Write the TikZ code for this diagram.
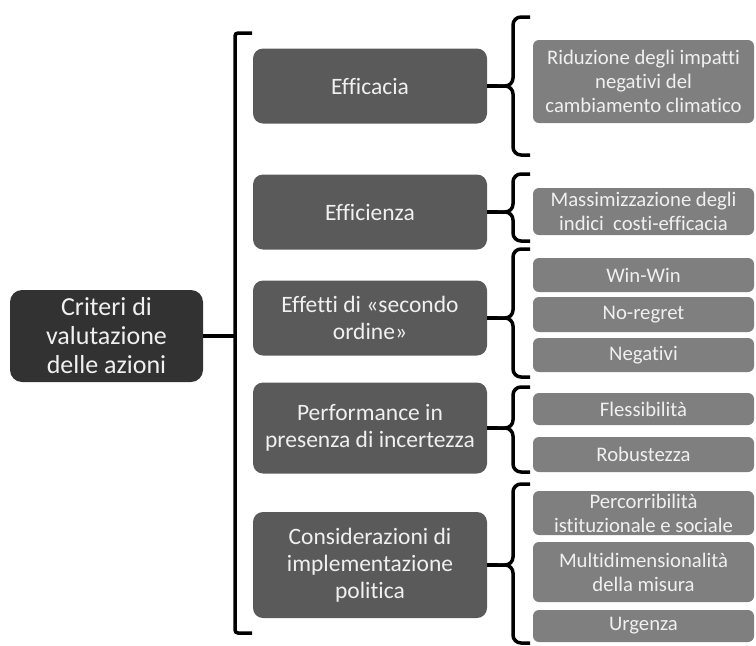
\documentclass[tikz,border=0pt]{standalone}
\usepackage{fontspec}
\setmainfont[Ligatures=NoCommon]{Carlito}
\definecolor{rootgray}{HTML}{323232}
\definecolor{critgray}{HTML}{5A5A5A}
\definecolor{subgray}{HTML}{7F7F7F}
\definecolor{txtgray}{HTML}{F0F0F0}
\begin{document}
\begin{tikzpicture}[x=1pt, y=-1pt,
    rootbox/.style={fill=rootgray, rounded corners=12pt, text=txtgray, align=center, inner sep=0pt, font=\fontsize{26}{29}\selectfont},
    critbox/.style={fill=critgray, rounded corners=10pt, text=txtgray, align=center, inner sep=0pt, minimum width=234pt, font=\fontsize{23.5}{27}\selectfont},
    subbox/.style={fill=subgray, rounded corners=6pt, text=txtgray, align=center, inner sep=0pt, minimum width=221pt, font=\fontsize{20.7}{24}\selectfont},
    brc/.style={line width=3.5pt, rounded corners=8pt}]
    \useasboundingbox (0,0) rectangle (756,646);
    % root and big bracket
    \node[rootbox, minimum width=193pt, minimum height=92pt] (root) at (106.5,336) {Criteri di\\valutazione\\delle azioni};
    \coordinate (rt) at (235,336);
    \draw[brc, rounded corners=3pt] (252,33) -| (235,633) -- (252,633);
    \draw[brc] (root.east) -- (rt);
    % criteria with their braces
    \foreach \nm/\y/\h/\bt/\bb/\txt in {c1/86/75/17/155/{Efficacia},
                                        c2/212/75/174/241/{Efficienza},
                                        c3/318/75/249/377/{Effetti di «secondo\\ordine»},
                                        c4/428/91/387/472/{Performance in\\presenza di incertezza},
                                        c5/565/106/484/643/{Considerazioni di\\implementazione\\politica}}{
        \node[critbox, minimum height=\h pt] (\nm) at (370,\y) {\txt};
        \coordinate (\nm t) at (498,\y);
        \draw[brc] (530,\bt) -| (513,\y) -- (\nm t);
        \draw[brc] (530,\bb) -| (513,\y) -- (\nm t);
        \draw[brc] (\nm.east) -- (\nm t);
    }
    % sub-criteria
    \foreach \nm/\y/\h/\txt in {s1/81.5/83/{Riduzione degli impatti\\negativi del\\cambiamento climatico},
                                s2/211.5/47/{Massimizzazione degli\\indici~ costi-efficacia},
                                s3/275/34/{Win-Win},
                                s4/314.5/35/{No-regret},
                                s5/355/34/{Negativi},
                                s6/409/32/{Flessibilità},
                                s7/454.5/35/{Robustezza},
                                s8/513/44/{Percorribilità\\istituzionale e sociale},
                                s9/572/60/{Multidimensionalità\\della misura},
                                s10/626/32/{Urgenza}}{
        \node[subbox, minimum height=\h pt] (\nm) at (643.5,\y) {\txt};
    }
\end{tikzpicture}
\end{document}
